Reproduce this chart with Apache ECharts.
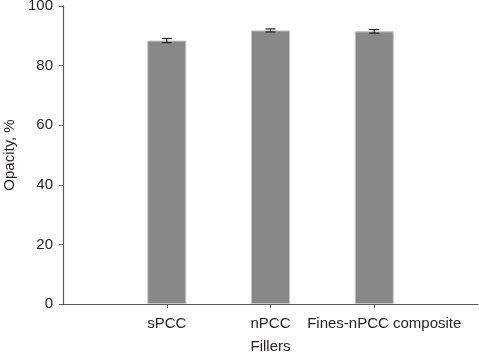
<!DOCTYPE html>
<html>
<head>
<meta charset="utf-8">
<script src="https://cdn.jsdelivr.net/npm/echarts@6/dist/echarts.min.js"></script>
<style>html,body{margin:0;padding:0;background:#fff}#c{width:479px;height:352px}</style>
</head>
<body>
<div id="c"></div>
<script>
const categories = ['', 'sPCC', 'nPCC', 'Fines-nPCC composite', ''];
const opacityValues = [null, 88.4, 91.8, 91.5, null];
const opacityErrors = [null, 0.7, 0.5, 0.6, null];
const yTicks = [0, 20, 40, 60, 80, 100];

const chart = echarts.init(document.getElementById('c'));
const font = 'Liberation Sans, Arial, sans-serif';
const txt = '#231f20';
const axisCol = '#5a5a5a';

const errData = categories.map((c, i) => opacityValues[i] == null ? null : [i, opacityValues[i], opacityErrors[i]]).filter(d => d);

chart.setOption({
  animation: false,
  grid: { left: 63, right: 1, top: 6, bottom: 48, containLabel: false, outerBoundsMode: 'none' },
  xAxis: {
    type: 'category',
    data: categories.map(c => c === 'Fines-nPCC composite' ? { value: c, textStyle: { padding: [0, 0, 0, 20] } } : c),
    boundaryGap: false,
    name: 'Fillers',
    nameLocation: 'middle',
    nameGap: 35,
    nameTextStyle: { fontFamily: font, fontSize: 15, color: txt },
    axisLine: { lineStyle: { color: axisCol, width: 1.2 } },
    axisTick: { length: 4, lineStyle: { color: axisCol }, interval: (i, v) => v !== '' },
    axisLabel: { fontFamily: font, fontSize: 15, color: txt, margin: 12, interval: 0 },
    splitLine: { show: false }
  },
  yAxis: {
    type: 'value',
    min: yTicks[0],
    max: yTicks[yTicks.length - 1],
    interval: 20,
    name: 'Opacity, %',
    nameLocation: 'middle',
    nameGap: 41,
    nameTextStyle: { fontFamily: font, fontSize: 15, color: txt },
    axisLine: { show: true, lineStyle: { color: axisCol, width: 1.2 } },
    axisTick: { show: true, length: 4, lineStyle: { color: axisCol } },
    axisLabel: { fontFamily: font, fontSize: 15, color: txt, margin: 10 },
    splitLine: { show: false }
  },
  series: [
    {
      type: 'bar',
      data: opacityValues,
      barWidth: 39,
      itemStyle: { color: '#888888', borderColor: '#c4c4c4', borderWidth: 1 }
    },
    {
      type: 'custom',
      data: errData,
      z: 10,
      renderItem: function (params, api) {
        const x = api.value(0), v = api.value(1), e = api.value(2);
        const hi = api.coord([x, v + e]);
        const lo = api.coord([x, v - e]);
        const hw = 5;
        const st = { stroke: '#222', lineWidth: 1.2 };
        return {
          type: 'group',
          children: [
            { type: 'line', shape: { x1: hi[0], y1: hi[1], x2: lo[0], y2: lo[1] }, style: st },
            { type: 'line', shape: { x1: hi[0] - hw, y1: hi[1], x2: hi[0] + hw, y2: hi[1] }, style: st },
            { type: 'line', shape: { x1: lo[0] - hw, y1: lo[1], x2: lo[0] + hw, y2: lo[1] }, style: st }
          ]
        };
      }
    }
  ]
});
</script>
</body>
</html>
